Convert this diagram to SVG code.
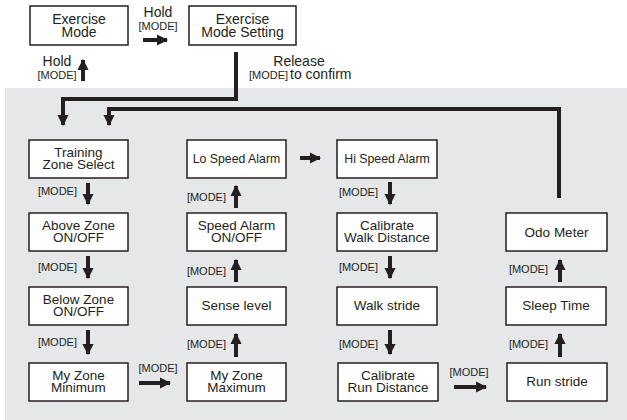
<svg xmlns="http://www.w3.org/2000/svg" width="627" height="420" viewBox="0 0 627 420">
<defs>
<style>
.box{fill:#fff;stroke:#231f20;stroke-width:1.5}
.t{font-family:"Liberation Sans",Arial,sans-serif;font-size:13.5px;fill:#231f20;text-anchor:middle}
.ts{font-family:"Liberation Sans",Arial,sans-serif;font-size:12.3px;fill:#231f20;text-anchor:middle}
.tb{font-family:"Liberation Sans",Arial,sans-serif;font-size:14px;fill:#231f20;text-anchor:middle}
.tl{font-family:"Liberation Sans",Arial,sans-serif;font-size:14px;fill:#231f20;text-anchor:start}
.m{font-family:"Liberation Sans",Arial,sans-serif;font-size:11px;fill:#231f20;text-anchor:middle}
.ml{font-family:"Liberation Sans",Arial,sans-serif;font-size:11px;fill:#231f20;text-anchor:start}
.me{font-family:"Liberation Sans",Arial,sans-serif;font-size:11px;fill:#231f20;text-anchor:end}
.ln{fill:none;stroke:#231f20;stroke-width:4}
.ar{fill:none;stroke:#231f20;stroke-width:4;marker-end:url(#ah)}
</style>
<marker id="ah" viewBox="0 0 10 10" refX="9" refY="5" markerWidth="2.8" markerHeight="2.8" markerUnits="strokeWidth" orient="auto">
<path d="M0,0 L10,5 L0,10 Z" fill="#231f20"/>
</marker>
</defs>
<rect x="5" y="88" width="622" height="332" fill="#e6e7e8"/>

<g id="exercise-mode"><rect class="box" x="30" y="6" width="98" height="39"/><text class="tb" x="79" y="23.5">Exercise<tspan x="79" dy="13.5">Mode</tspan></text></g>
<g id="exercise-mode-setting"><rect class="box" x="189" y="6" width="107" height="39"/><text class="tb" x="242.5" y="23.5">Exercise<tspan x="242.5" dy="13.5">Mode Setting</tspan></text></g>

<g id="training"><rect class="box" x="29" y="140" width="99" height="38"/><text class="t" x="78.5" y="156.5">Training<tspan x="78.5" dy="12.5">Zone Select</tspan></text></g>
<g id="above-zone"><rect class="box" x="29" y="213" width="99" height="38"/><text class="t" x="78.5" y="229.5">Above Zone<tspan x="78.5" dy="12.5">ON/OFF</tspan></text></g>
<g id="below-zone"><rect class="box" x="29" y="287" width="99" height="38"/><text class="t" x="78.5" y="303.5">Below Zone<tspan x="78.5" dy="12.5">ON/OFF</tspan></text></g>
<g id="my-zone-min"><rect class="box" x="29" y="363" width="99" height="38"/><text class="t" x="78.5" y="379.5">My Zone<tspan x="78.5" dy="12.5">Minimum</tspan></text></g>

<g id="lo-speed"><rect class="box" x="187" y="140" width="99" height="38"/><text class="ts" x="236.5" y="163">Lo Speed Alarm</text></g>
<g id="speed-alarm"><rect class="box" x="187" y="213" width="99" height="38"/><text class="t" x="236.5" y="229.5">Speed Alarm<tspan x="236.5" dy="12.5">ON/OFF</tspan></text></g>
<g id="sense-level"><rect class="box" x="187" y="287" width="99" height="38"/><text class="t" x="236.5" y="310">Sense level</text></g>
<g id="my-zone-max"><rect class="box" x="187" y="363" width="99" height="38"/><text class="t" x="236.5" y="379.5">My Zone<tspan x="236.5" dy="12.5">Maximum</tspan></text></g>

<g id="hi-speed"><rect class="box" x="337" y="140" width="100" height="38"/><text class="ts" x="387" y="163">Hi Speed Alarm</text></g>
<g id="cal-walk"><rect class="box" x="337" y="213" width="100" height="38"/><text class="t" x="387" y="229.5">Calibrate<tspan x="387" dy="12.5">Walk Distance</tspan></text></g>
<g id="walk-stride"><rect class="box" x="337" y="287" width="100" height="38"/><text class="t" x="387" y="310">Walk stride</text></g>
<g id="cal-run"><rect class="box" x="338" y="363" width="100" height="38"/><text class="t" x="388" y="379.5">Calibrate<tspan x="388" dy="12.5">Run Distance</tspan></text></g>

<g id="odo-meter"><rect class="box" x="506" y="213" width="101" height="38"/><text class="t" x="556.5" y="237">Odo Meter</text></g>
<g id="sleep-time"><rect class="box" x="506" y="287" width="100" height="38"/><text class="t" x="556" y="310">Sleep Time</text></g>
<g id="run-stride"><rect class="box" x="507" y="363" width="100" height="38"/><text class="t" x="557" y="386">Run stride</text></g>

<g id="connectors">
<path class="ar" d="M143,40 H167"/>
<text class="tb" x="158" y="17">Hold</text><text class="m" x="158" y="30">[MODE]</text>
<path class="ar" d="M83,81 V60"/>
<text class="tb" x="57" y="66">Hold</text><text class="m" x="57" y="79">[MODE]</text>
<path class="ar" d="M236,52 V99 H63 V125"/>
<text class="tb" x="299" y="66">Release</text>
<text class="ml" x="249" y="79">[MODE]</text><text class="tl" x="290" y="79">to confirm</text>
<path class="ln" d="M559,198 V109 H109 V120"/>
<path class="ar" d="M109,118 V125"/>

<path class="ar" d="M88,183 V204"/><text class="me" x="77" y="195">[MODE]</text>
<path class="ar" d="M88,256 V278"/><text class="me" x="77" y="271">[MODE]</text>
<path class="ar" d="M88,330 V354"/><text class="me" x="77" y="346">[MODE]</text>

<path class="ar" d="M139,383 H170"/><text class="m" x="158" y="372">[MODE]</text>

<path class="ar" d="M236,357 V334"/><text class="me" x="226" y="348">[MODE]</text>
<path class="ar" d="M236,282 V260"/><text class="me" x="226" y="275">[MODE]</text>
<path class="ar" d="M236,208 V186"/><text class="me" x="226" y="201">[MODE]</text>

<path class="ar" d="M300,158 H320"/>

<path class="ar" d="M390,182 V204"/><text class="me" x="378" y="196">[MODE]</text>
<path class="ar" d="M390,256 V278"/><text class="me" x="378" y="271">[MODE]</text>
<path class="ar" d="M390,330 V354"/><text class="me" x="378" y="348">[MODE]</text>

<path class="ar" d="M454,387 H486"/><text class="m" x="469" y="376">[MODE]</text>

<path class="ar" d="M560,357 V334"/><text class="me" x="548" y="348">[MODE]</text>
<path class="ar" d="M560,282 V260"/><text class="me" x="548" y="273">[MODE]</text>
</g>
</svg>
